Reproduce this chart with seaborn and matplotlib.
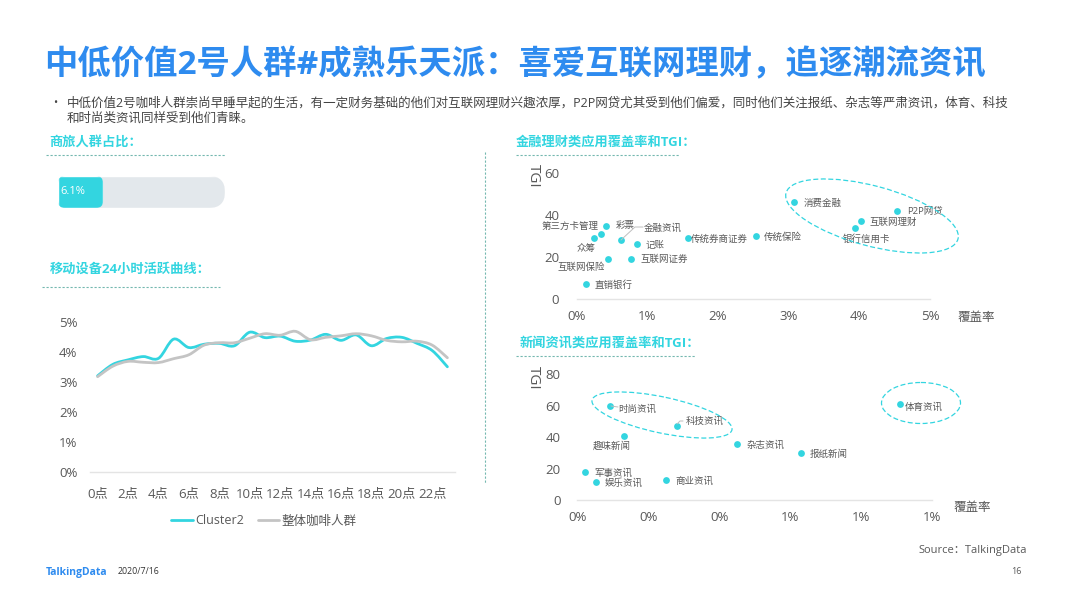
"""TalkingData slide: coffee audience cluster 2, activity curve and app coverage scatters."""

import matplotlib.pyplot as plt
import pandas as pd
import seaborn as sns
from matplotlib.lines import Line2D
from matplotlib.patches import Ellipse, FancyBboxPatch, PathPatch
from matplotlib.path import Path
from matplotlib.transforms import Affine2D, IdentityTransform

# share bar
SHARE_VALUE = 6.1
SHARE_TRACK = 22.6

# 24h activity
HOURS = [f"{h}点" for h in range(24)]
CLUSTER2 = [3.20, 3.58, 3.73, 3.84, 3.78, 4.42, 4.14, 4.25, 4.28, 4.20, 4.65, 4.47,
            4.52, 4.35, 4.39, 4.58, 4.38, 4.56, 4.20, 4.44, 4.48, 4.28, 4.04, 3.50]
OVERALL = [3.17, 3.52, 3.68, 3.65, 3.64, 3.77, 3.90, 4.22, 4.30, 4.30, 4.45, 4.60,
           4.55, 4.68, 4.40, 4.48, 4.53, 4.60, 4.53, 4.38, 4.33, 4.35, 4.22, 3.80]

# finance apps
FIN_NAMES = ["消费金融", "P2P网贷", "互联网理财", "银行信用卡", "传统保险", "传统券商证券", "彩票",
             "第三方卡管理", "众筹", "金融资讯", "记账", "互联网证券", "互联网保险", "直销银行"]
FIN_COVER = [3.08, 4.53, 4.02, 3.94, 2.54, 1.58, 0.42, 0.34, 0.25, 0.63, 0.85, 0.77, 0.44, 0.13]
FIN_TGI = [46.1, 42.0, 37.1, 34.0, 30.0, 29.0, 34.9, 31.0, 29.0, 28.0, 26.2, 19.0, 19.0, 7.2]
FIN_OFFSETS = [(9, 1), (10, 1), (9, 1), (-12, 11), (8, 1), (3, 1), (9, 0), (-59, -8), (-18, 10),
               (23, -12), (9, 1), (9, 0), (-50, 8), (9, 1)]

# news apps
NEWS_NAMES = ["时尚资讯", "科技资讯", "趣味新闻", "杂志资讯", "报纸新闻", "军事资讯", "娱乐资讯",
              "商业资讯", "体育资讯"]
NEWS_COVER = [0.091, 0.281, 0.131, 0.451, 0.630, 0.022, 0.052, 0.250, 0.909]
NEWS_TGI = [59.7, 47.0, 40.7, 35.9, 30.0, 17.9, 11.8, 12.9, 61.0]
NEWS_OFFSETS = [(9, 3), (9, -5), (-31, 10), (9, 1), (9, 1), (9, 1), (9, 1), (9, 1), (5, 3)]

TEAL = "#33D5E0"
GREY = "#C4C4C4"
TRACK = "#E3E8EC"
BLUE = "#2E8BEF"
TEXT = "#595959"
AXIS_LINE = "#E4E4E4"
DASH = "#74B8B0"

W, H = 1066, 599

sns.set_theme(style="white")
plt.rcParams["font.family"] = ["Open Sans", "Noto Sans CJK SC", "DejaVu Sans"]

fig = plt.figure(figsize=(W / 100, H / 100), dpi=100, facecolor="white")
# decoration is positioned in reference pixels, y going down
px = Affine2D().scale(1, -1).translate(0, H)


def add_axes_px(left, top, right, bottom):
    return fig.add_axes([left / W, 1 - bottom / H, (right - left) / W, (bottom - top) / H])


def put_text(x, y, s, size=9, color=TEXT, **kwargs):
    kwargs.setdefault("va", "center")
    fig.text(x, y, s, fontsize=size, color=color, transform=px, **kwargs)


def dashed_rule(x0, y0, x1, y1):
    fig.add_artist(Line2D([x0, x1], [y0, y1], transform=px, color=DASH, lw=0.8, ls=(0, (2, 1.6))))


def round_bar(bar, radius):
    box = bar.get_window_extent()
    clip = FancyBboxPatch((box.x0, box.y0), box.width, box.height,
                          boxstyle=f"round,pad=0,rounding_size={radius}",
                          transform=IdentityTransform())
    bar.set_clip_path(clip)


def smooth_line(ax, line):
    """Swap a straight seaborn line for a bezier through the same vertices."""
    pts = line.get_xydata()
    verts = [pts[0]]
    codes = [Path.MOVETO]
    for i in range(len(pts) - 1):
        before = pts[max(i - 1, 0)]
        after = pts[min(i + 2, len(pts) - 1)]
        verts += [pts[i] + (pts[i + 1] - before) / 6, pts[i + 1] - (after - pts[i]) / 6, pts[i + 1]]
        codes += [Path.CURVE4] * 3
    ax.add_patch(PathPatch(Path(verts, codes), fill=False, edgecolor=line.get_color(),
                           lw=line.get_linewidth(), capstyle="round", joinstyle="round"))
    line.set_visible(False)


def style_axis(ax, x_pad, y_pad):
    sns.despine(ax=ax, left=True, top=True, right=True)
    ax.spines["bottom"].set_color(AXIS_LINE)
    ax.spines["bottom"].set_linewidth(1)
    ax.tick_params(axis="x", length=0, pad=x_pad, labelsize=9.5, labelcolor=TEXT)
    ax.tick_params(axis="y", length=0, pad=y_pad, labelsize=9.5, labelcolor=TEXT)
    ax.set_xlabel("")
    ax.set_ylabel("")
    ax.grid(False)


def draw_scatter(ax, names, cover, tgi, offsets):
    df = pd.DataFrame({"name": names, "cover": cover, "tgi": tgi})
    sns.scatterplot(data=df, x="cover", y="tgi", ax=ax, color=TEAL, s=24, linewidth=0, clip_on=False)
    for name, x, y, (dx, dy) in zip(names, cover, tgi, offsets):
        ax.annotate(name, (x, y), xytext=(dx * 0.72, -dy * 0.72), textcoords="offset points",
                    fontsize=6.8, color=TEXT, va="center", ha="left")


# header
put_text(44, 66, "中低价值2号人群#成熟乐天派：喜爱互联网理财，追逐潮流资讯", size=24, color=BLUE,
         fontweight="bold")
put_text(53, 103.5, "•", size=8, color="#444444")
put_text(67, 103.5, "中低价值2号咖啡人群崇尚早睡早起的生活，有一定财务基础的他们对互联网理财兴趣浓厚，"
                    "P2P网贷尤其受到他们偏爱，同时他们关注报纸、杂志等严肃资讯，体育、科技",
         size=9.02, color="#444444")
put_text(67, 118.5, "和时尚类资讯同样受到他们青睐。", size=9, color="#444444")

# section headings
for x, y, heading in [(49, 142, "商旅人群占比："), (50, 269, "移动设备24小时活跃曲线："),
                      (516, 142, "金融理财类应用覆盖率和TGI："), (520, 343, "新闻资讯类应用覆盖率和TGI：")]:
    put_text(x, y, heading, size=9.5, color=TEAL, fontweight="bold")
dashed_rule(46, 155, 225, 155)
dashed_rule(42, 287, 220, 287)
dashed_rule(516, 155, 680, 155)
dashed_rule(516, 356, 695, 356)
dashed_rule(485, 152, 485, 483)

# share bar
ax_share = add_axes_px(58, 176, 225, 208)
share_df = pd.DataFrame({"group": ["商旅人群"], "track": [SHARE_TRACK], "share": [SHARE_VALUE]})
sns.barplot(data=share_df, x="track", y="group", ax=ax_share, color=TRACK, saturation=1, width=1)
sns.barplot(data=share_df, x="share", y="group", ax=ax_share, color=TEAL, saturation=1, width=1)
ax_share.set_xlim(0, SHARE_TRACK)
ax_share.set_ylim(0.5, -0.5)
ax_share.axis("off")
round_bar(ax_share.patches[0], 16)
round_bar(ax_share.patches[1], 7)
ax_share.text(0.3, 0, f"{SHARE_VALUE}%", color="white", fontsize=8, va="center", ha="left")

# activity curve
ax_line = add_axes_px(90, 321.7, 455, 472)
line_df = pd.DataFrame({"hour": HOURS * 2, "share": CLUSTER2 + OVERALL,
                        "group": ["Cluster2"] * 24 + ["整体咖啡人群"] * 24})
sns.lineplot(data=line_df, x="hour", y="share", hue="group", ax=ax_line, sort=False,
             palette={"Cluster2": TEAL, "整体咖啡人群": GREY}, linewidth=2)
ax_line.set_xlim(-0.5, 23.5)
ax_line.set_ylim(0, 5)
ax_line.set_xticks(range(0, 24, 2), HOURS[::2])
ax_line.set_yticks(range(6), [f"{v}%" for v in range(6)])
style_axis(ax_line, 11, 9)
handles, labels = ax_line.get_legend_handles_labels()
ax_line.legend(handles, labels, ncol=2, frameon=False, loc="center", fontsize=9,
               labelcolor=TEXT, handlelength=1.7, handletextpad=0.2, columnspacing=1.1,
               bbox_to_anchor=(264 / W, 1 - 521 / H), bbox_transform=fig.transFigure)
for line in list(ax_line.lines):
    if len(line.get_xydata()):
        smooth_line(ax_line, line)

# finance scatter
ax_fin = add_axes_px(576.7, 172.7, 930, 299.3)
draw_scatter(ax_fin, FIN_NAMES, FIN_COVER, FIN_TGI, FIN_OFFSETS)
ax_fin.set_xlim(0, 5)
ax_fin.set_ylim(0, 60)
ax_fin.set_xticks(range(6), [f"{v}%" for v in range(6)])
ax_fin.set_yticks([0, 20, 40, 60])
style_axis(ax_fin, 8, 12.5)
put_text(533, 176, "TGI", size=11, rotation=-90, ha="center")
put_text(958, 317, "覆盖率", size=9)

# news scatter
ax_news = add_axes_px(577.3, 374, 932.3, 500.3)
draw_scatter(ax_news, NEWS_NAMES, NEWS_COVER, NEWS_TGI, NEWS_OFFSETS)
ax_news.set_xlim(0, 1)
ax_news.set_ylim(0, 80)
ax_news.set_xticks([0, 0.2, 0.4, 0.6, 0.8, 1.0], [f"{v:.0f}%" for v in [0, 0.2, 0.4, 0.6, 0.8, 1.0]])
ax_news.set_yticks([0, 20, 40, 60, 80])
style_axis(ax_news, 8, 12)
put_text(533, 378, "TGI", size=11, rotation=-90, ha="center")
put_text(954, 507, "覆盖率", size=9)

# highlight rings and leader lines
for cx, cy, w, h, angle in [(872, 216, 178, 60, 15), (662, 415, 143, 36, 12), (921, 403, 79, 41, 0)]:
    fig.add_artist(Ellipse((cx, cy), w, h, angle=angle, transform=px, fill=False, edgecolor=TEAL,
                           lw=0.9, ls=(0, (4, 2))))
for xs, ys in [([621, 635, 643], [240, 227, 227]), ([611, 618], [406, 407]), ([677, 680, 683], [424, 421, 421])]:
    fig.add_artist(Line2D(xs, ys, transform=px, color="#BFBFBF", lw=0.7))

# footer
put_text(46, 572, "TalkingData", size=7.5, color=BLUE, fontweight="bold")
put_text(118, 572, "2020/7/16", size=6.3, color="#333333")
put_text(1027, 551, "Source：TalkingData", size=8, ha="right")
put_text(1022, 572, "16", size=6.5, ha="right")

fig.savefig("out.png", dpi=100, facecolor="white")
plt.close(fig)
